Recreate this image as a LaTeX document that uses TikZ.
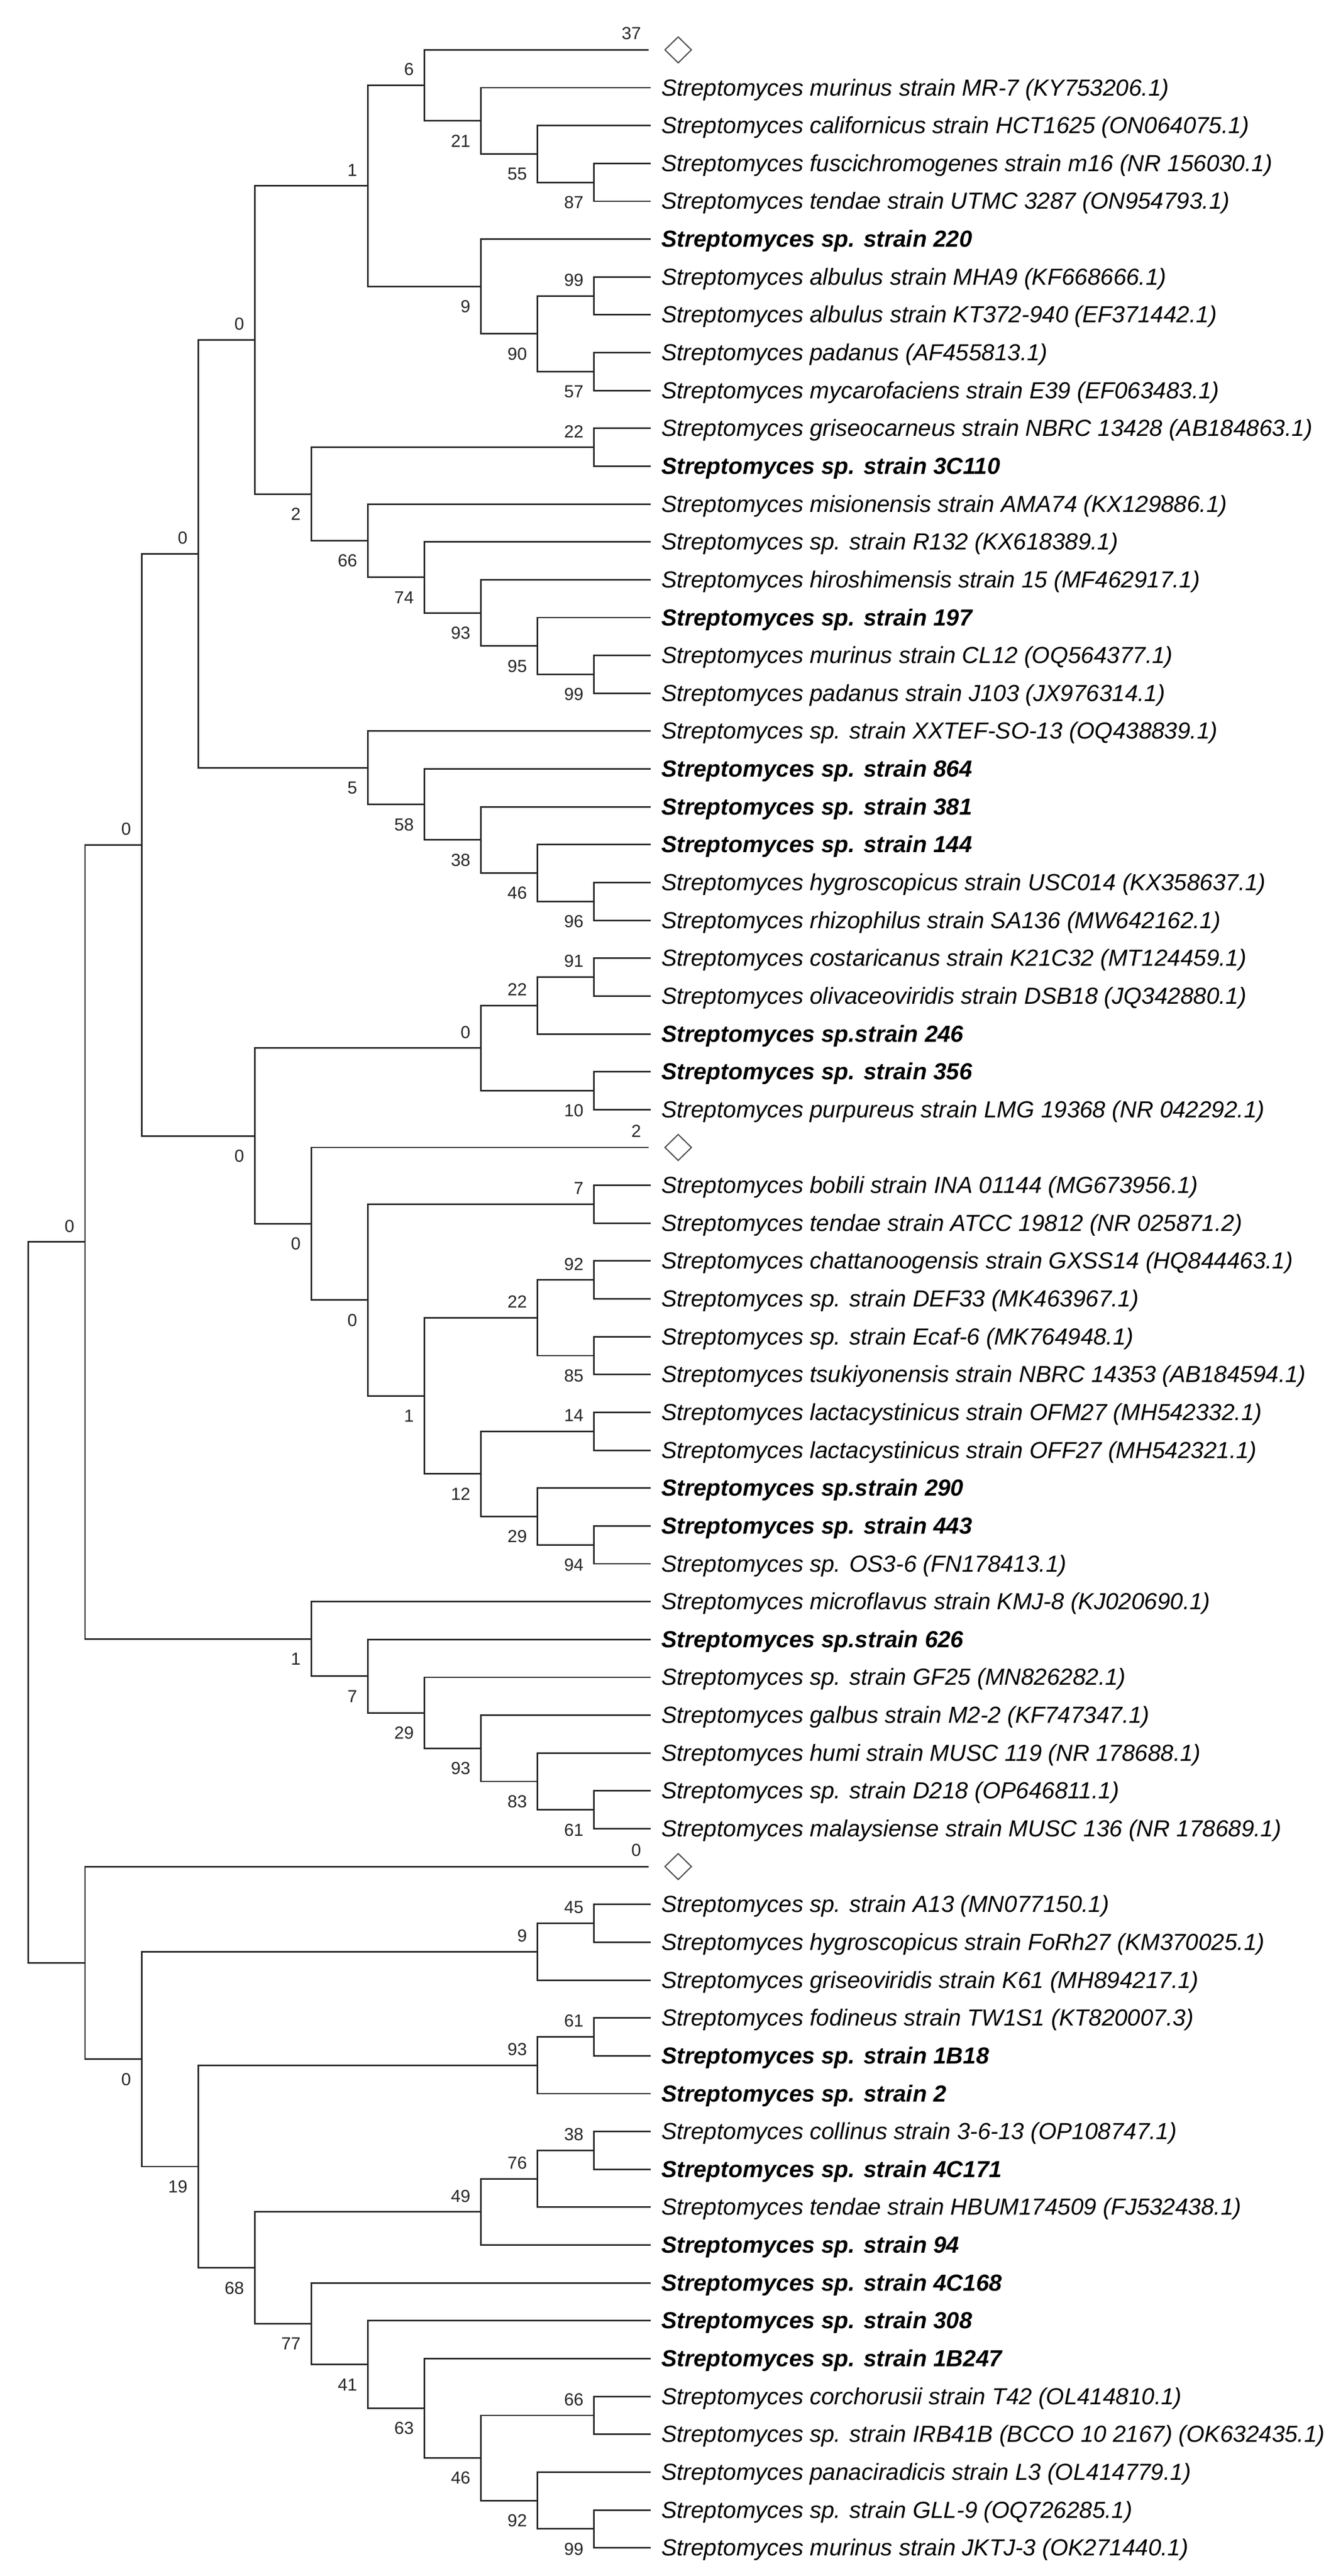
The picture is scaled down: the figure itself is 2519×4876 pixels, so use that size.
\documentclass[tikz,border=0pt]{standalone}
\usepackage{fontspec}
\setmainfont{Liberation Sans}
\newfontfamily\numfont{Liberation Sans}
\usetikzlibrary{shapes.geometric}
\newcommand\nd[3]{\coordinate (#1) at ({53.9+107.1*#2},{94.4+71.64*#3});}
\newcommand\lf[2]{\coordinate (l#1) at (1232,{94.4+71.64*#1});
  \node[leaftxt] (t#1) at ([xshift=20pt,yshift=-15pt]l#1) {#2};}
\newcommand\lfb[2]{\coordinate (l#1) at (1232,{94.4+71.64*#1});
  \node[leaftxt,font=\fontsize{44}{50}\selectfont\bfseries\itshape] (t#1) at ([xshift=20pt,yshift=-15pt]l#1) {#2};}
\newcommand\cl[2]{\coordinate (l#1) at (1228,{94.4+71.64*#1});
  \node[diam] (d#1) at ([xshift=56pt]l#1) {};
  \node[bcol] (c#1) at (l#1) {#2};}
\newcommand\ed[3]{\draw[br] (#2) -| (#1) |- (#3);}
\newcommand\bu[2]{\node[bsup] (b#1) at (#1) {#2};}
\newcommand\bd[2]{\node[bsdn] (b#1) at (#1) {#2};}
\tikzset{
  br/.style={line width=2.9pt, draw=black!85},
  leaftxt/.style={anchor=base west, inner sep=0pt, font=\fontsize{44}{50}\selectfont\itshape, text=black},
  numlab/.style={anchor=east, inner sep=0pt, font={\numfont\fontsize{33}{36}\selectfont}, text=black!85},
  bsup/.style={numlab, xshift=-20pt, yshift=30pt},
  bsdn/.style={numlab, xshift=-20pt, yshift=-38pt},
  bcol/.style={numlab, xshift=-14pt, yshift=31pt},
  diam/.style={diamond, draw=black!70, line width=2.2pt, inner sep=0pt, minimum width=51pt, minimum height=50pt}
}
\begin{document}
\begin{tikzpicture}[x=1pt,y=-1pt]
\fill[white] (0,0) rectangle (2519,4876);
\useasboundingbox (0,0) rectangle (2519,4876);
% leaves
\cl{0}{37}
\lf{1}{Streptomyces murinus strain MR-7 (KY753206.1)}
\lf{2}{Streptomyces californicus strain HCT1625 (ON064075.1)}
\lf{3}{Streptomyces fuscichromogenes strain m16 (NR 156030.1)}
\lf{4}{Streptomyces tendae strain UTMC 3287 (ON954793.1)}
\lfb{5}{Streptomyces sp. strain 220}
\lf{6}{Streptomyces albulus strain MHA9 (KF668666.1)}
\lf{7}{Streptomyces albulus strain KT372-940 (EF371442.1)}
\lf{8}{Streptomyces padanus (AF455813.1)}
\lf{9}{Streptomyces mycarofaciens strain E39 (EF063483.1)}
\lf{10}{Streptomyces griseocarneus strain NBRC 13428 (AB184863.1)}
\lfb{11}{Streptomyces sp. strain 3C110}
\lf{12}{Streptomyces misionensis strain AMA74 (KX129886.1)}
\lf{13}{Streptomyces sp. strain R132 (KX618389.1)}
\lf{14}{Streptomyces hiroshimensis strain 15 (MF462917.1)}
\lfb{15}{Streptomyces sp. strain 197}
\lf{16}{Streptomyces murinus strain CL12 (OQ564377.1)}
\lf{17}{Streptomyces padanus strain J103 (JX976314.1)}
\lf{18}{Streptomyces sp. strain XXTEF-SO-13 (OQ438839.1)}
\lfb{19}{Streptomyces sp. strain 864}
\lfb{20}{Streptomyces sp. strain 381}
\lfb{21}{Streptomyces sp. strain 144}
\lf{22}{Streptomyces hygroscopicus strain USC014 (KX358637.1)}
\lf{23}{Streptomyces rhizophilus strain SA136 (MW642162.1)}
\lf{24}{Streptomyces costaricanus strain K21C32 (MT124459.1)}
\lf{25}{Streptomyces olivaceoviridis strain DSB18 (JQ342880.1)}
\lfb{26}{Streptomyces sp.strain 246}
\lfb{27}{Streptomyces sp. strain 356}
\lf{28}{Streptomyces purpureus strain LMG 19368 (NR 042292.1)}
\cl{29}{2}
\lf{30}{Streptomyces bobili strain INA 01144 (MG673956.1)}
\lf{31}{Streptomyces tendae strain ATCC 19812 (NR 025871.2)}
\lf{32}{Streptomyces chattanoogensis strain GXSS14 (HQ844463.1)}
\lf{33}{Streptomyces sp. strain DEF33 (MK463967.1)}
\lf{34}{Streptomyces sp. strain Ecaf-6 (MK764948.1)}
\lf{35}{Streptomyces tsukiyonensis strain NBRC 14353 (AB184594.1)}
\lf{36}{Streptomyces lactacystinicus strain OFM27 (MH542332.1)}
\lf{37}{Streptomyces lactacystinicus strain OFF27 (MH542321.1)}
\lfb{38}{Streptomyces sp.strain 290}
\lfb{39}{Streptomyces sp. strain 443}
\lf{40}{Streptomyces sp. OS3-6 (FN178413.1)}
\lf{41}{Streptomyces microflavus strain KMJ-8 (KJ020690.1)}
\lfb{42}{Streptomyces sp.strain 626}
\lf{43}{Streptomyces sp. strain GF25 (MN826282.1)}
\lf{44}{Streptomyces galbus strain M2-2 (KF747347.1)}
\lf{45}{Streptomyces humi strain MUSC 119 (NR 178688.1)}
\lf{46}{Streptomyces sp. strain D218 (OP646811.1)}
\lf{47}{Streptomyces malaysiense strain MUSC 136 (NR 178689.1)}
\cl{48}{0}
\lf{49}{Streptomyces sp. strain A13 (MN077150.1)}
\lf{50}{Streptomyces hygroscopicus strain FoRh27 (KM370025.1)}
\lf{51}{Streptomyces griseoviridis strain K61 (MH894217.1)}
\lf{52}{Streptomyces fodineus strain TW1S1 (KT820007.3)}
\lfb{53}{Streptomyces sp. strain 1B18}
\lfb{54}{Streptomyces sp. strain 2}
\lf{55}{Streptomyces collinus strain 3-6-13 (OP108747.1)}
\lfb{56}{Streptomyces sp. strain 4C171}
\lf{57}{Streptomyces tendae strain HBUM174509 (FJ532438.1)}
\lfb{58}{Streptomyces sp. strain 94}
\lfb{59}{Streptomyces sp. strain 4C168}
\lfb{60}{Streptomyces sp. strain 308}
\lfb{61}{Streptomyces sp. strain 1B247}
\lf{62}{Streptomyces corchorusii strain T42 (OL414810.1)}
\lf{63}{Streptomyces sp. strain IRB41B (BCCO 10 2167) (OK632435.1)}
\lf{64}{Streptomyces panaciradicis strain L3 (OL414779.1)}
\lf{65}{Streptomyces sp. strain GLL-9 (OQ726285.1)}
\lf{66}{Streptomyces murinus strain JKTJ-3 (OK271440.1)}
% internal nodes
\nd{D}{10}{3.5}
\nd{C}{9}{2.75}
\nd{B}{8}{1.875}
\nd{A}{7}{0.9375}
\nd{H}{10}{6.5}
\nd{I}{10}{8.5}
\nd{G}{9}{7.5}
\nd{F}{8}{6.25}
\nd{E}{6}{3.59375}
\nd{R}{10}{10.5}
\nd{Q}{10}{16.5}
\nd{P}{9}{15.75}
\nd{O}{8}{14.875}
\nd{N}{7}{13.9375}
\nd{M}{6}{12.96875}
\nd{K}{5}{11.734375}
\nd{J}{4}{7.6640625}
\nd{X}{10}{22.5}
\nd{W}{9}{21.75}
\nd{V}{8}{20.875}
\nd{U}{7}{19.9375}
\nd{T}{6}{18.96875}
\nd{S}{3}{13.31640625}
\nd{AE}{10}{24.5}
\nd{AC}{9}{25.25}
\nd{AD}{10}{27.5}
\nd{AA}{8}{26.375}
\nd{AG}{10}{30.5}
\nd{AK}{10}{32.5}
\nd{AL}{10}{34.5}
\nd{AI}{9}{33.5}
\nd{AM}{10}{36.5}
\nd{AO}{10}{39.5}
\nd{AN}{9}{38.75}
\nd{AJ}{8}{37.625}
\nd{AH}{7}{35.5625}
\nd{AF}{6}{33.03125}
\nd{AB}{5}{31.015625}
\nd{Z}{4}{28.6953125}
\nd{Y}{2}{21.005859375}
\nd{AV}{10}{46.5}
\nd{AU}{9}{45.75}
\nd{AT}{8}{44.875}
\nd{AS}{7}{43.9375}
\nd{AR}{6}{42.96875}
\nd{AQ}{5}{41.984375}
\nd{AP}{1}{31.4951171875}
\nd{AZ}{10}{49.5}
\nd{AY}{9}{50.25}
\nd{BD}{10}{52.5}
\nd{BB}{9}{53.25}
\nd{BH}{10}{55.5}
\nd{BG}{9}{56.25}
\nd{BE}{8}{57.125}
\nd{BL}{10}{62.5}
\nd{BN}{10}{65.5}
\nd{BM}{9}{64.75}
\nd{BK}{8}{63.625}
\nd{BJ}{7}{62.3125}
\nd{BI}{6}{61.15625}
\nd{BF}{5}{60.078125}
\nd{BC}{4}{58.6015625}
\nd{BA}{3}{55.92578125}
\nd{AX}{2}{53.087890625}
\nd{AW}{1}{50.5439453125}
\nd{root}{0}{41.01953125}
% branches
\ed{A}{l0}{B}
\ed{B}{l1}{C}
\ed{C}{l2}{D}
\ed{D}{l3}{l4}
\ed{E}{A}{F}
\ed{F}{l5}{G}
\ed{G}{H}{I}
\ed{H}{l6}{l7}
\ed{I}{l8}{l9}
\ed{J}{E}{K}
\ed{K}{R}{M}
\ed{R}{l10}{l11}
\ed{M}{l12}{N}
\ed{N}{l13}{O}
\ed{O}{l14}{P}
\ed{P}{l15}{Q}
\ed{Q}{l16}{l17}
\ed{S}{J}{T}
\ed{T}{l18}{U}
\ed{U}{l19}{V}
\ed{V}{l20}{W}
\ed{W}{l21}{X}
\ed{X}{l22}{l23}
\ed{Y}{S}{Z}
\ed{Z}{AA}{AB}
\ed{AA}{AC}{AD}
\ed{AC}{AE}{l26}
\ed{AE}{l24}{l25}
\ed{AD}{l27}{l28}
\ed{AB}{l29}{AF}
\ed{AF}{AG}{AH}
\ed{AG}{l30}{l31}
\ed{AH}{AI}{AJ}
\ed{AI}{AK}{AL}
\ed{AK}{l32}{l33}
\ed{AL}{l34}{l35}
\ed{AJ}{AM}{AN}
\ed{AM}{l36}{l37}
\ed{AN}{l38}{AO}
\ed{AO}{l39}{l40}
\ed{AP}{Y}{AQ}
\ed{AQ}{l41}{AR}
\ed{AR}{l42}{AS}
\ed{AS}{l43}{AT}
\ed{AT}{l44}{AU}
\ed{AU}{l45}{AV}
\ed{AV}{l46}{l47}
\ed{root}{AP}{AW}
\ed{AW}{l48}{AX}
\ed{AX}{AY}{BA}
\ed{AY}{AZ}{l51}
\ed{AZ}{l49}{l50}
\ed{BA}{BB}{BC}
\ed{BB}{BD}{l54}
\ed{BD}{l52}{l53}
\ed{BC}{BE}{BF}
\ed{BE}{BG}{l58}
\ed{BG}{BH}{l57}
\ed{BH}{l55}{l56}
\ed{BF}{l59}{BI}
\ed{BI}{l60}{BJ}
\ed{BJ}{l61}{BK}
\ed{BK}{BL}{BM}
\ed{BL}{l62}{l63}
\ed{BM}{l64}{BN}
\ed{BN}{l65}{l66}
% bootstrap labels
\bu{A}{6} \bd{B}{21} \bd{C}{55} \bd{D}{87}
\bu{E}{1} \bd{F}{9} \bu{H}{99} \bd{G}{90} \bd{I}{57}
\bu{J}{0} \bd{K}{2} \bu{R}{22} \bd{M}{66} \bd{N}{74} \bd{O}{93} \bd{P}{95} \bd{Q}{99}
\bu{S}{0} \bd{T}{5} \bd{U}{58} \bd{V}{38} \bd{W}{46} \bd{X}{96}
\bu{Y}{0} \bd{Z}{0} \bu{AA}{0} \bu{AC}{22} \bu{AE}{91} \bd{AD}{10}
\bd{AB}{0} \bd{AF}{0} \bu{AG}{7} \bd{AH}{1} \bu{AI}{22} \bu{AK}{92} \bd{AL}{85}
\bd{AJ}{12} \bu{AM}{14} \bd{AN}{29} \bd{AO}{94}
\bu{AP}{0} \bd{AQ}{1} \bd{AR}{7} \bd{AS}{29} \bd{AT}{93} \bd{AU}{83} \bd{AV}{61}
\bd{AX}{0} \bu{AY}{9} \bu{AZ}{45} \bd{BA}{19} \bu{BB}{93} \bu{BD}{61}
\bd{BC}{68} \bu{BE}{49} \bu{BG}{76} \bu{BH}{38} \bd{BF}{77} \bd{BI}{41}
\bd{BJ}{63} \bd{BK}{46} \bu{BL}{66} \bd{BM}{92} \bd{BN}{99}
\end{tikzpicture}
\end{document}
